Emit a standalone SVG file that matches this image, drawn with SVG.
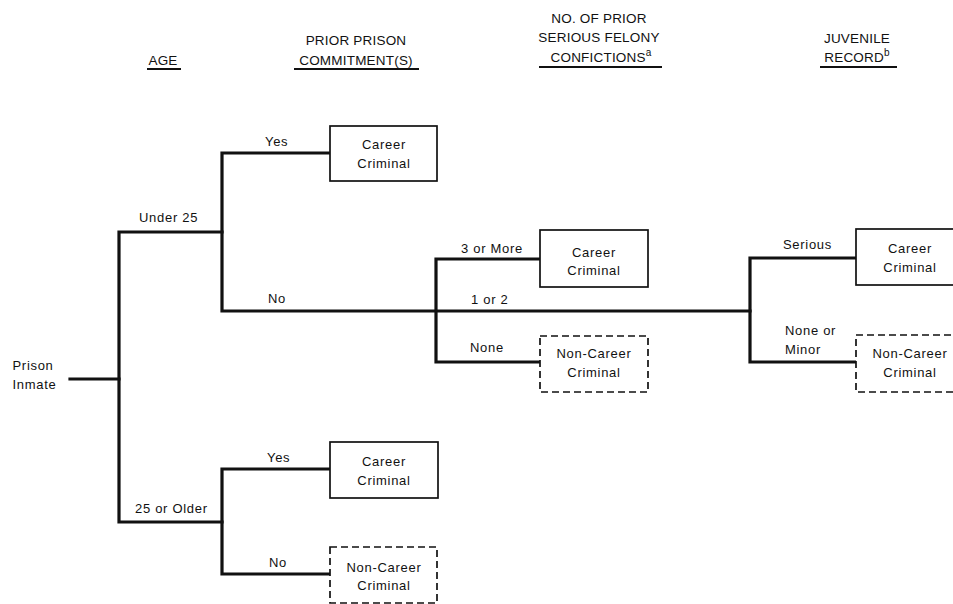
<svg xmlns="http://www.w3.org/2000/svg" width="953" height="604" viewBox="0 0 953 604">
<style>
text{font-family:"Liberation Sans",Arial,sans-serif;font-size:13px;letter-spacing:0.7px;fill:#111}
.h{font-size:13.5px;letter-spacing:0.2px;text-anchor:middle}
.c{text-anchor:middle}
.ul{stroke:#111;stroke-width:1.8}
.ln{fill:none;stroke:#111;stroke-width:3.2;stroke-linejoin:miter;stroke-linecap:square}
.box{fill:#fff;stroke:#111;stroke-width:1.7}
.dash{fill:#fff;stroke:#111;stroke-width:1.7;stroke-dasharray:7,4}
</style>
<rect width="953" height="604" fill="#fff"/>
<g id="headers">
<text class="h" x="163" y="65">AGE</text>
<line class="ul" x1="147" y1="69" x2="181" y2="69"/>
<text class="h" x="356" y="45">PRIOR PRISON</text>
<text class="h" x="356" y="65">COMMITMENT(S)</text>
<line class="ul" x1="294" y1="69" x2="419" y2="69"/>
<text class="h" x="599" y="23">NO. OF PRIOR</text>
<text class="h" x="599" y="42">SERIOUS FELONY</text>
<text class="h" x="601" y="62">CONFICTIONS<tspan font-size="10" dy="-6">a</tspan></text>
<line class="ul" x1="539" y1="67" x2="662" y2="67"/>
<text class="h" x="857" y="43">JUVENILE</text>
<text class="h" x="857" y="62">RECORD<tspan font-size="10" dy="-6">b</tspan></text>
<line class="ul" x1="820" y1="67" x2="897" y2="67"/>
</g>
<g id="connectors">
<path class="ln" d="M70,379 H119"/>
<path class="ln" d="M222,232 H119 V522 H222"/>
<path class="ln" d="M330,153 H222 V311 H750"/>
<path class="ln" d="M540,259 H436 V362 H540"/>
<path class="ln" d="M856,258 H750 V362 H856"/>
<path class="ln" d="M330,469 H222 V574 H330"/>
</g>
<g id="labels">
<text x="139" y="222">Under 25</text>
<text x="135" y="513">25 or Older</text>
<text x="265" y="146">Yes</text>
<text x="268" y="303">No</text>
<text x="267" y="461.5">Yes</text>
<text x="269" y="567">No</text>
<text x="461" y="252.5">3 or More</text>
<text x="471" y="304">1 or 2</text>
<text x="470" y="351.5">None</text>
<text x="783" y="249">Serious</text>
<text x="785" y="335">None or</text>
<text x="785" y="354">Minor</text>
</g>
<g id="prison-inmate">
<text x="12.5" y="370">Prison</text>
<text x="12.5" y="389">Inmate</text>
</g>
<g id="n1">
<rect class="box" x="330" y="126" width="107" height="55"/>
<text class="c" x="384" y="149">Career</text>
<text class="c" x="384" y="168">Criminal</text>
</g>
<g id="n2">
<rect class="box" x="540" y="230" width="108" height="57"/>
<text class="c" x="594" y="256.5">Career</text>
<text class="c" x="594" y="275">Criminal</text>
</g>
<g id="n3">
<rect class="dash" x="540" y="336" width="108" height="56"/>
<text class="c" x="594" y="358">Non-Career</text>
<text class="c" x="594" y="376.5">Criminal</text>
</g>
<g id="n4">
<rect class="box" x="856" y="229" width="108" height="56"/>
<text class="c" x="910" y="253">Career</text>
<text class="c" x="910" y="271.5">Criminal</text>
</g>
<g id="n5">
<rect class="dash" x="856" y="335" width="108" height="57"/>
<text class="c" x="910" y="358">Non-Career</text>
<text class="c" x="910" y="377">Criminal</text>
</g>
<g id="n6">
<rect class="box" x="330" y="442" width="108" height="56"/>
<text class="c" x="384" y="466">Career</text>
<text class="c" x="384" y="485">Criminal</text>
</g>
<g id="n7">
<rect class="dash" x="330" y="547" width="107" height="56"/>
<text class="c" x="384" y="571.5">Non-Career</text>
<text class="c" x="384" y="590">Criminal</text>
</g>
</svg>
